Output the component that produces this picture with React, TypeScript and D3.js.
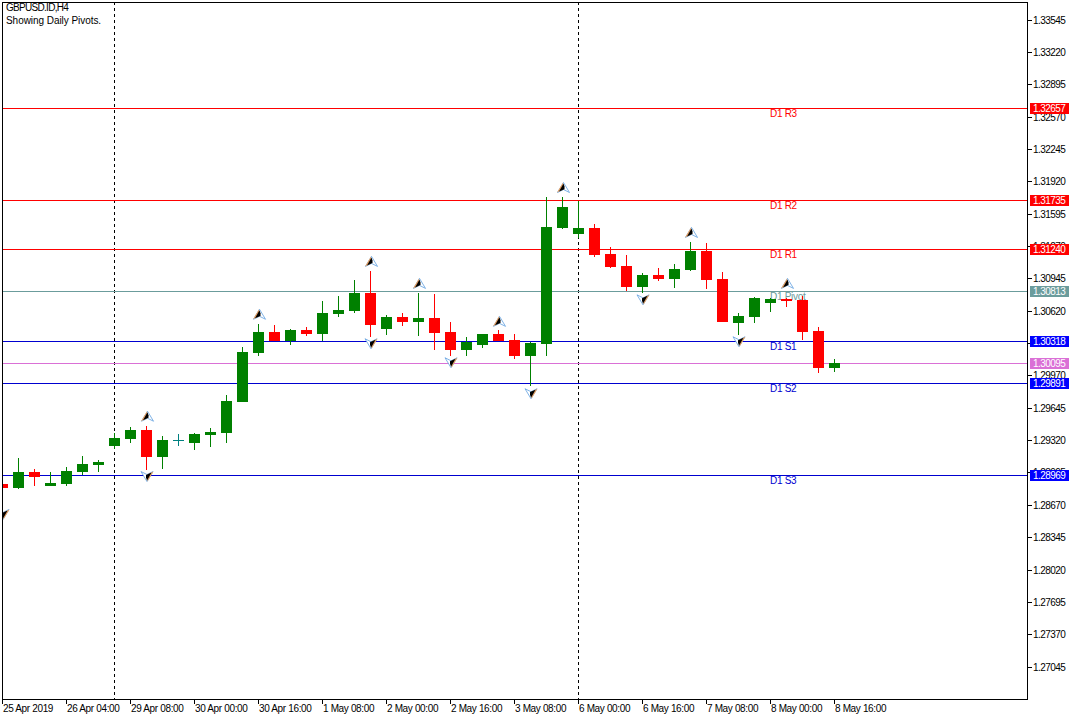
import React from "react";
import * as d3 from "d3";

const opens = [1.28883,1.28843,1.29004,1.28863,1.28883,1.29004,1.29074,1.29265,1.29335,1.29425,1.29154,1.29325,1.29295,1.29375,1.29395,1.29706,1.30197,1.30408,1.30318,1.30428,1.30388,1.30589,1.30619,1.30799,1.30438,1.30558,1.30508,1.30548,1.30408,1.30227,1.30278,1.30388,1.30328,1.30167,1.30288,1.31451,1.31391,1.31451,1.31190,1.31070,1.30859,1.30980,1.30940,1.31030,1.31220,1.30940,1.30498,1.30558,1.30699,1.30739,1.30729,1.30418,1.30047];
const highs = [1.28883,1.29144,1.29034,1.29004,1.29054,1.29164,1.29124,1.29395,1.29455,1.29465,1.29365,1.29385,1.29395,1.29445,1.29776,1.30258,1.30488,1.30478,1.30438,1.30458,1.30719,1.30769,1.30930,1.31020,1.30579,1.30599,1.30799,1.30789,1.30508,1.30358,1.30388,1.30428,1.30388,1.30308,1.31762,1.31762,1.31722,1.31491,1.31261,1.31180,1.31000,1.31050,1.31090,1.31311,1.31301,1.31010,1.30599,1.30759,1.30749,1.30749,1.30769,1.30458,1.30137];
const lows = [1.28843,1.28833,1.28863,1.28863,1.28863,1.28974,1.29004,1.29235,1.29295,1.29024,1.29034,1.29265,1.29224,1.29255,1.29295,1.29706,1.30167,1.30318,1.30278,1.30368,1.30318,1.30558,1.30599,1.30358,1.30378,1.30468,1.30368,1.30227,1.30167,1.30167,1.30248,1.30318,1.30137,1.29866,1.30167,1.31441,1.31351,1.31160,1.31050,1.30819,1.30799,1.30920,1.30849,1.31020,1.30839,1.30508,1.30378,1.30498,1.30609,1.30659,1.30328,1.29997,1.30007];
const closes = [1.28843,1.29004,1.28954,1.28894,1.29014,1.29084,1.29104,1.29345,1.29425,1.29154,1.29325,1.29325,1.29385,1.29405,1.29716,1.30207,1.30408,1.30318,1.30428,1.30388,1.30599,1.30629,1.30799,1.30478,1.30558,1.30508,1.30548,1.30398,1.30227,1.30308,1.30388,1.30318,1.30167,1.30298,1.31461,1.31662,1.31451,1.31180,1.31060,1.30859,1.30980,1.30940,1.31040,1.31220,1.30930,1.30508,1.30569,1.30749,1.30739,1.30719,1.30408,1.30047,1.30097];

const levelPrices = [1.32657,1.31735,1.31240,1.30813,1.30318,1.30095,1.29891,1.28969];
const levelNames = ["D1 R3","D1 R2","D1 R1","D1 Pivot","D1 S1","","D1 S2","D1 S3"];
const levelColors = ["#ff0000","#ff0000","#ff0000","#6b9c9c","#0000d0","#da70d6","#0000d0","#0000d0"];
const tagColors = ["#ff0000","#ff0000","#ff0000","#6b9c9c","#0000ff","#da70d6","#0000ff","#0000ff"];

const priceTicks = [1.33545,1.33220,1.32895,1.32570,1.32245,1.31920,1.31595,1.31270,1.30945,1.30620,1.30295,1.29970,1.29645,1.29320,1.28995,1.28670,1.28345,1.28020,1.27695,1.27370,1.27045];
const timeLabels = ["25 Apr 2019","26 Apr 04:00","29 Apr 08:00","30 Apr 00:00","30 Apr 16:00","1 May 08:00","2 May 00:00","2 May 16:00","3 May 08:00","6 May 00:00","6 May 16:00","7 May 08:00","8 May 00:00","8 May 16:00"];
const timeTickIdx = [0,4,8,12,16,20,24,28,32,36,40,44,48,52];
const separatorIdx = [7,36];

const upFractalIdx = [9,16,23,26,31,35,43,49];
const upFractalPrice = [1.29555,1.30579,1.31110,1.30889,1.30508,1.31852,1.31401,1.30889];
const downFractalIdx = [0,9,23,28,33,40,46];
const downFractalPrice = [1.28573,1.28954,1.30288,1.30097,1.29786,1.30729,1.30308];

const L = 2, T = 2, R = 1027, B = 699;
const FONT = "'Liberation Sans', Arial, sans-serif";
const GREEN = "#008000";
const RED = "#ff0000";
const TEAL = "#008080";

const y = d3.scaleLinear().domain([1.33545, 1.27045]).range([19.5, 666.6]);
const x = d3.scaleLinear().domain([0, 52]).range([2, 834]);
const py = (p: number) => Math.round(y(p));

const dart = d3.line();

function Fractal({ cx, cy, dir }: { cx: number; cy: number; dir: 1 | -1 }) {
  // the down marker is the up marker turned by 180 degrees
  const p = (dx: number, dy: number): [number, number] => [cx + dx * dir, cy + dy * dir];
  return (
    <g>
      <path d={dart([p(0,-5),p(6,5),p(0,2),p(-6,5)])! + "Z"} fill="#ffffff" stroke="#5f9fe0" strokeWidth={0.8} />
      <path d={dart([p(-0.5,-5),p(-6.5,5),p(-0.5,2)])! + "Z"} fill="#e8a060" />
      <path d={dart([p(0,-4),p(-4.5,4),p(1,1.6),p(1,-1)])! + "Z"} fill="#000000" />
    </g>
  );
}

export default function App() {
  const n = opens.length;
  return (
    <svg width={1080} height={720} viewBox="0 0 1080 720"
      style={{ position: "fixed", left: 0, top: 0, background: "#fff", display: "block" }}
      fontFamily={FONT} fontSize={10}>
      <defs>
        <clipPath id="plot"><rect x={L} y={T} width={R - L} height={B - T} /></clipPath>
      </defs>

      <g clipPath="url(#plot)" shapeRendering="crispEdges">
        {separatorIdx.map((i) => (
          <line key={i} x1={x(i) + 0.5} x2={x(i) + 0.5} y1={T} y2={B} stroke="#000" strokeDasharray="3 3" />
        ))}
        {levelPrices.map((p, i) => (
          <rect key={i} x={L} width={R - L} y={py(p)} height={1} fill={levelColors[i]} />
        ))}
      </g>

      {levelPrices.map((p, i) => levelNames[i] ? (
        <text key={i} x={770} y={py(p) + 9} fill={levelColors[i]} letterSpacing={-0.3}>{levelNames[i]}</text>
      ) : null)}

      <g clipPath="url(#plot)" shapeRendering="crispEdges">
        {d3.range(n).map((i) => {
          const up = closes[i] > opens[i];
          const doji = closes[i] === opens[i];
          const c = doji ? TEAL : up ? GREEN : RED;
          const top = py(Math.max(opens[i], closes[i]));
          const bot = py(Math.min(opens[i], closes[i]));
          const cx = x(i);
          return (
            <g key={i}>
              <rect x={cx} width={1} y={py(highs[i])} height={py(lows[i]) - py(highs[i])} fill={c} />
              <rect x={cx - 5} width={11} y={top} height={Math.max(1, bot - top)} fill={c} />
            </g>
          );
        })}
      </g>

      <g clipPath="url(#plot)">
        {upFractalIdx.map((i, k) => (
          <Fractal key={k} cx={x(i) + 1.5} cy={y(upFractalPrice[k]) - 0.5} dir={1} />
        ))}
        {downFractalIdx.map((i, k) => (
          <Fractal key={k} cx={x(i) + 1} cy={y(downFractalPrice[k])} dir={-1} />
        ))}
      </g>

      <rect x={L + 0.5} y={T + 0.5} width={R - L} height={B - T} fill="none" stroke="#000" shapeRendering="crispEdges" />

      <text x={6} y={11} letterSpacing={-0.7}>GBPUSD.ID,H4</text>
      <text x={6} y={23.5} letterSpacing={-0.05}>Showing Daily Pivots.</text>

      {priceTicks.map((p) => (
        <g key={p}>
          <rect x={R} y={py(p)} width={5} height={1} fill="#000" shapeRendering="crispEdges" />
          <text x={1033} y={py(p) + 3.5} letterSpacing={-0.55}>{p.toFixed(5)}</text>
        </g>
      ))}

      {levelPrices.map((p, i) => (
        <g key={i}>
          <rect x={1030} y={py(p) - 5} width={39} height={11} fill={tagColors[i]} shapeRendering="crispEdges" />
          <text x={1033} y={py(p) + 3.5} fill="#fff" letterSpacing={-0.55}>{p.toFixed(5)}</text>
        </g>
      ))}

      {timeTickIdx.map((i, k) => (
        <g key={k}>
          <rect x={x(i)} y={B} width={1} height={5} fill="#000" shapeRendering="crispEdges" />
          <text x={x(i) + 1} y={712} letterSpacing={-0.35}>{timeLabels[k]}</text>
        </g>
      ))}
    </svg>
  );
}
